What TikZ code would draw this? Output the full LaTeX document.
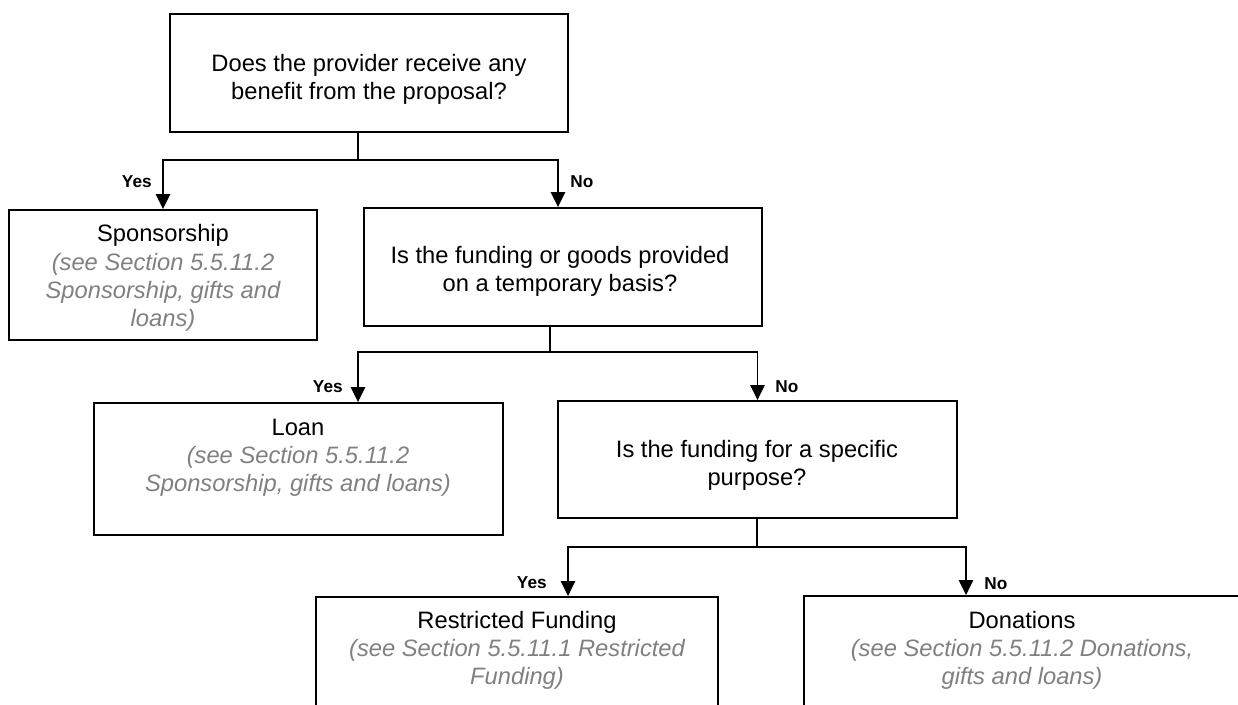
\documentclass[tikz,border=0pt]{standalone}
\usepackage{fontspec}
\setmainfont{Liberation Sans}
\usetikzlibrary{arrows.meta}
\definecolor{refgray}{RGB}{128,128,128}
\newcommand\seeref[1]{\textcolor{refgray}{\itshape #1}}
\begin{document}
\begin{tikzpicture}[x=0.02cm,y=-0.02cm,
  box/.style={draw, line width=1.1pt, rectangle, inner sep=0pt},
  txt/.style={inner sep=0pt, align=center, font=\fontsize{13.5}{16}\selectfont},
  lbl/.style={inner sep=0pt, font=\fontsize{9.8}{11}\selectfont\bfseries},
  link/.style={line width=0.8pt},
  arr/.style={link, -{Triangle[length=0.3cm,width=0.29cm]}}]
\useasboundingbox (0,0) rectangle (1238,705);
\clip (0,0) rectangle (1238,705);

% boxes
\node[box, minimum width=7.96cm, minimum height=2.36cm] (q1) at (369,73) {};
\node[box, minimum width=6.16cm, minimum height=2.60cm] (sp) at (163,275) {};
\node[box, minimum width=7.96cm, minimum height=2.36cm] (q2) at (563,267) {};
\node[box, minimum width=8.18cm, minimum height=2.64cm] (ln) at (298.5,469) {};
\node[box, minimum width=7.98cm, minimum height=2.34cm] (q3) at (757.5,459.5) {};
\node[box, minimum width=8.04cm, minimum height=3.26cm] (rf) at (517,678.5) {};
\node[box, minimum width=8.72cm, minimum height=3.28cm] (dn) at (1022,678) {};

% box texts
\node[txt] (q1t) at (369,79) {Does the provider receive any\\benefit from the proposal?};
\node[txt] (spt) at (163,278) {Sponsorship\\\seeref{(see Section 5.5.11.2}\\\seeref{Sponsorship, gifts and}\\\seeref{loans)}};
\node[txt] (q2t) at (560,271) {Is the funding or goods provided\\on a temporary basis?};
\node[txt] (lnt) at (298,458) {Loan\\\seeref{(see Section 5.5.11.2}\\\seeref{Sponsorship, gifts and loans)}};
\node[txt] (q3t) at (757,465) {Is the funding for a specific\\purpose?};
\node[txt] (rft) at (517,650) {Restricted Funding\\\seeref{(see Section 5.5.11.1 Restricted}\\\seeref{Funding)}};
\node[txt] (dnt) at (1022,650) {Donations\\\seeref{(see Section 5.5.11.2 Donations,}\\\seeref{gifts and loans)}};

% branch labels
\node[lbl, anchor=east] (y1) at (152,182) {Yes};
\node[lbl, anchor=west] (n1) at (570,182) {No};
\node[lbl, anchor=east] (y2) at (343,387) {Yes};
\node[lbl, anchor=west] (n2) at (775,387) {No};
\node[lbl, anchor=east] (y3) at (547,583) {Yes};
\node[lbl, anchor=west] (n3) at (984,584) {No};

% junctions and arrow columns
\coordinate (j1) at (358,160);
\coordinate (j2) at (550,352);
\coordinate (j3) at (757,547);
\coordinate (k1) at (558,0);
\coordinate (k2) at (358,0);
\coordinate (k3) at (568,0);
\coordinate (k4) at (966,0);

% connectors
\draw[link] (q1.south -| j1) -- (j1);
\draw[arr] (j1) -| (sp.north);
\draw[arr] (j1) -| (q2.north -| k1);

\draw[link] (q2.south -| j2) -- (j2);
\draw[arr] (j2) -| (ln.north -| k2);
\draw[arr] (j2) -| (q3.north);

\draw[link] (q3.south -| j3) -- (j3);
\draw[arr] (j3) -| (rf.north -| k3);
\draw[arr] (j3) -| (dn.north -| k4);
\end{tikzpicture}
\end{document}
